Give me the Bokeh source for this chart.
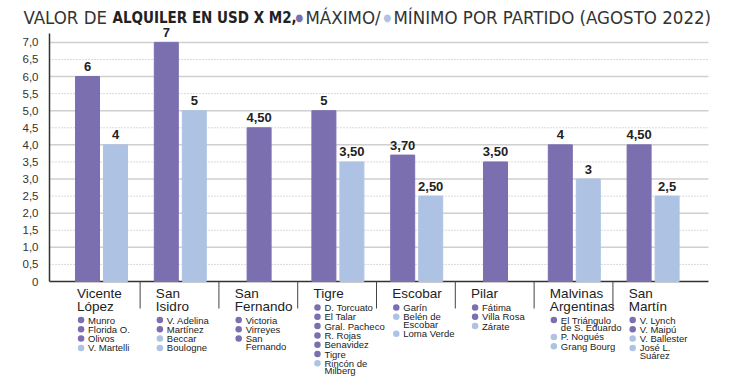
from bokeh.plotting import figure
from bokeh.models import (ColumnDataSource, LinearAxis, FixedTicker, Label, LabelSet, Range1d)
from bokeh.embed import file_html
from bokeh.resources import INLINE
from bokeh.core.properties import value

# ---------------- data ----------------
partidos = ["Vicente\nLópez", "San\nIsidro", "San\nFernando", "Tigre", "Escobar",
            "Pilar", "Malvinas\nArgentinas", "San\nMartín"]
maximo = [6, 7, 4.5, 5, 3.7, 3.5, 4, 4]
minimo = [4, 5, None, 3.5, 2.5, None, 3, 2.5]
maximo_txt = ["6", "7", "4,50", "5", "3,70", "3,50", "4", "4,50"]
minimo_txt = ["4", "5", "", "3,50", "2,50", "", "3", "2,5"]
localidades_max = [["Munro", "Florida O.", "Olivos"],
                   ["V. Adelina", "Martínez"],
                   ["Victoria", "Virreyes", "San\nFernando"],
                   ["D. Torcuato", "El Talar", "Gral. Pacheco", "R. Rojas", "Benavidez", "Tigre"],
                   ["Garín"],
                   ["Fátima", "Villa Rosa"],
                   ["El Triángulo\nde S. Eduardo"],
                   ["V. Lynch", "V. Maipú"]]
localidades_min = [["V. Martelli"],
                   ["Beccar", "Boulogne"],
                   [],
                   ["Rincón de\nMilberg"],
                   ["Belén de\nEscobar", "Loma Verde"],
                   ["Zárate"],
                   ["P. Nogués", "Grang Bourg"],
                   ["V. Ballester", "José L.\nSuárez"]]
y_ticks = [0, 0.5, 1, 1.5, 2, 2.5, 3, 3.5, 4, 4.5, 5, 5.5, 6, 6.5, 7]
y_tick_labels = ["0", "0,5", "1,0", "1,5", "2,0", "2,5", "3,0", "3,5", "4,0", "4,5",
                 "5,0", "5,5", "6,0", "6,5", "7,0"]

# ---------------- style ----------------
C_MAX = "#7b6fb0"
C_MIN = "#aec3e3"
TXT = "#222222"
FONT = "Liberation Sans"
NARROW = "DejaVu Sans Condensed, DejaVu Sans, sans-serif"

W, H = 714, 376
# pixel -> data helpers (layout only)
PXX, PXY = 78.8, 34.16
def X(px):
    return (px - 101) / PXX
def Y(py):
    return (281 - py) / PXY

p = figure(width=W, height=H, output_backend="svg", toolbar_location=None,
           x_range=Range1d(X(0), X(W)), y_range=Range1d(Y(H), Y(0)),
           x_axis_type=None, y_axis_type=None, min_border=0)
p.outline_line_color = None
p.background_fill_color = "white"
p.border_fill_color = "white"
p.xgrid.visible = False
p.ygrid.visible = False

# grid lines (solid at integers, dotted at halves)
gx0, gx1 = X(49), X(708)
solid = [t for t in y_ticks if t > 0 and t == int(t)]
dotted = [t for t in y_ticks if t != int(t)]
p.segment(x0=[gx0] * len(solid), x1=[gx1] * len(solid), y0=solid, y1=solid,
          line_color="#cfcfcf", line_width=1.5)
p.segment(x0=[gx0] * len(dotted), x1=[gx1] * len(dotted), y0=dotted, y1=dotted,
          line_color="#b5b5b5", line_width=1, line_dash="1 2")

# y axis
ax = LinearAxis(ticker=FixedTicker(ticks=y_ticks), bounds=(0, Y(33)), fixed_location=X(49),
                major_label_overrides={t: l for t, l in zip(y_ticks, y_tick_labels)},
                axis_line_color="#333333", axis_line_width=1.5,
                major_tick_line_color=None, minor_tick_line_color=None,
                major_label_text_font=FONT, major_label_text_font_size="11.5px",
                major_label_text_color="#333333", major_label_standoff=5)
p.add_layout(ax, "left")

# baseline
p.segment(x0=[gx0], x1=[gx1], y0=[y_ticks[0]], y1=[y_ticks[0]],
          line_color="#333333", line_width=1.5)

# bars
off = 14 / PXX
bw = 24 / PXX
xs_max, xs_min, tops_min, lbl_min = [], [], [], []
for i, (mx, mn, t) in enumerate(zip(maximo, minimo, minimo_txt)):
    if mn is None:
        xs_max.append(i)
    else:
        xs_max.append(i - off)
        xs_min.append(i + off)
        tops_min.append(mn)
        lbl_min.append(t)

src_max = ColumnDataSource(dict(x=xs_max, top=maximo, lbl=maximo_txt,
                                ly=[v + 10 / PXY for v in maximo]))
src_min = ColumnDataSource(dict(x=xs_min, top=tops_min, lbl=lbl_min,
                                ly=[v + 10 / PXY for v in tops_min]))
p.vbar(x="x", top="top", bottom=0, width=bw, color=C_MAX, source=src_max)
p.vbar(x="x", top="top", bottom=0, width=bw, color=C_MIN, source=src_min)
for s in (src_max, src_min):
    p.add_layout(LabelSet(x="x", y="ly", text="lbl", source=s, text_align="center",
                          text_baseline="middle", text_font=value(FONT),
                          text_font_style="bold", text_font_size="13px", text_color=TXT))

# separators between partidos
sep_x = [i + 0.49 for i in range(len(partidos) - 1)]
p.segment(x0=sep_x, x1=sep_x, y0=[0] * len(sep_x), y1=[Y(308)] * len(sep_x),
          line_color="#444444", line_width=1)

# category names and localities
nx, ny, nt = [], [], []
dx, dy, dc = [], [], []
ix, iy, it = [], [], []
for i, name in enumerate(partidos):
    lx = i - 0.31
    lines = name.split("\n")
    py = 293
    for k, ln in enumerate(lines):
        nx.append(lx); ny.append(Y(py)); nt.append(ln)
        if k < len(lines) - 1:
            py += 12.5
    py += 14.0
    items = [(n, C_MAX) for n in localidades_max[i]] + [(n, C_MIN) for n in localidades_min[i]]
    for n, c in items:
        sub = n.split("\n")
        dx.append(lx + 4 / PXX); dy.append(Y(py)); dc.append(c)
        for k, ln in enumerate(sub):
            ix.append(lx + 11 / PXX); iy.append(Y(py)); it.append(ln)
            if k < len(sub) - 1:
                py += 7.6
        py += 9.3

p.text(x=nx, y=ny, text=nt, text_font=value(FONT), text_font_size="13.5px",
       text_color=TXT, text_baseline="middle", text_align="left")
p.scatter(x=dx, y=dy, color=dc, size=6.5, marker="circle", line_color=None)
p.text(x=ix, y=iy, text=it, text_font=value(FONT), text_font_size="9.5px",
       text_color=TXT, text_baseline="middle", text_align="left")

# title
ty = Y(17)
parts = [(23, "VALOR DE", "normal", "#333333", "18.5px"),
         (112, "ALQUILER EN USD X M2,", "bold", "#222222", "15px"),
         (295, "●", "normal", C_MAX, "10px"),
         (305, "MÁXIMO/", "normal", "#333333", "18.5px"),
         (383, "●", "normal", C_MIN, "10px"),
         (393, "MÍNIMO POR PARTIDO (AGOSTO 2022)", "normal", "#333333", "18.5px")]
for px, txt, style, col, fs in parts:
    p.add_layout(Label(x=X(px), y=ty, text=txt, text_font=NARROW, text_font_style=style,
                       text_color=col, text_font_size=fs, text_baseline="middle",
                       text_align="left"))

open("out.html", "w").write(file_html(p, INLINE))
